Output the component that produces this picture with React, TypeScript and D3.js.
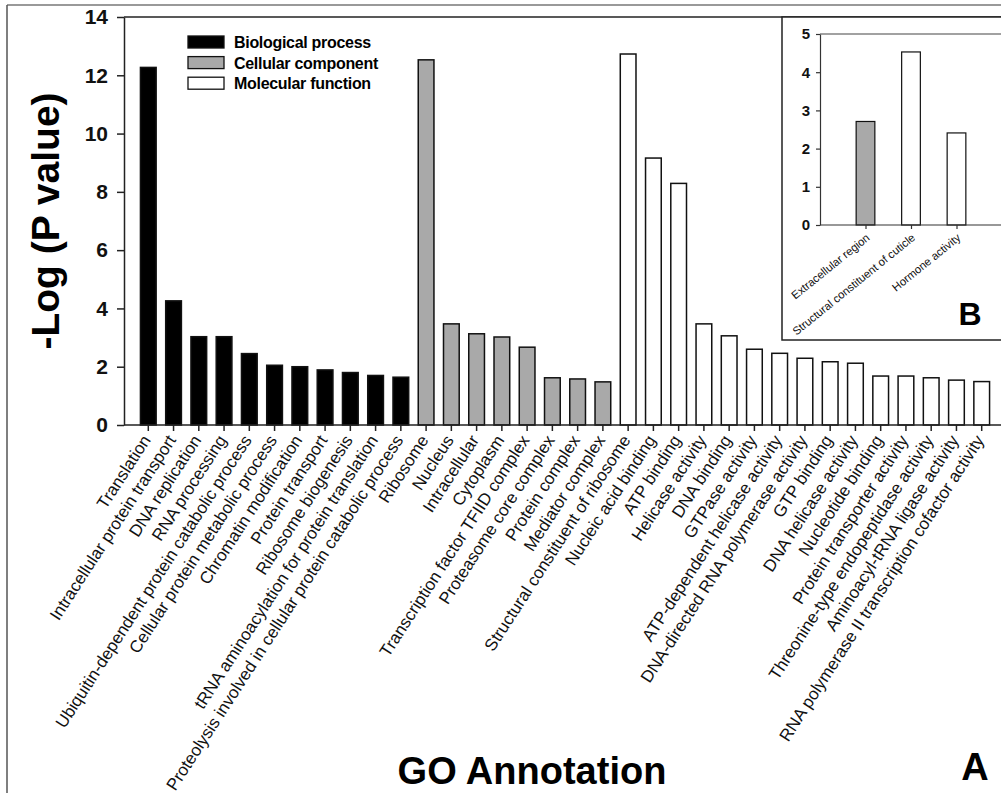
import { useRef, useEffect } from 'react';
import * as d3 from 'd3';

// main panel (A)
const bpLabels = [
  'Translation',
  'Intracellular protein transport',
  'DNA replication',
  'RNA processing',
  'Ubiquitin-dependent protein catabolic process',
  'Cellular protein metabolic process',
  'Chromatin modification',
  'Protein transport',
  'Ribosome biogenesis',
  'tRNA aminoacylation for protein translation',
  'Proteolysis involved in cellular protein catabolic process',
];
const bpValues = [12.27, 4.26, 3.03, 3.03, 2.45, 2.05, 2.0, 1.89, 1.8, 1.7, 1.64];

const ccLabels = [
  'Ribosome',
  'Nucleus',
  'Intracellular',
  'Cytoplasm',
  'Transcription factor TFIID complex',
  'Proteasome core complex',
  'Protein complex',
  'Mediator complex',
];
const ccValues = [12.53, 3.47, 3.13, 3.02, 2.67, 1.62, 1.58, 1.48];

const mfLabels = [
  'Structural constituent of ribosome',
  'Nucleic acid binding',
  'ATP binding',
  'Helicase activity',
  'DNA binding',
  'GTPase activity',
  'ATP-dependent helicase activity',
  'DNA-directed RNA polymerase activity',
  'GTP binding',
  'DNA helicase activity',
  'Nucleotide binding',
  'Protein transporter activity',
  'Threonine-type endopeptidase activity',
  'Aminoacyl-tRNA ligase activity',
  'RNA polymerase II transcription cofactor activity',
];
const mfValues = [12.73, 9.16, 8.29, 3.47, 3.06, 2.6, 2.46, 2.29, 2.17, 2.12, 1.68, 1.68, 1.62, 1.54, 1.49];

const mainTicks = [0, 2, 4, 6, 8, 10, 12, 14];

// inset panel (B)
const insetLabels = ['Extracellular region', 'Structural constituent of cuticle', 'Hormone activity'];
const insetValues = [2.71, 4.53, 2.41];
const insetGroups = ['cc', 'mf', 'mf'];
const insetTicks = [0, 1, 2, 3, 4, 5];

const legendItems = [
  { key: 'bp', label: 'Biological process' },
  { key: 'cc', label: 'Cellular component' },
  { key: 'mf', label: 'Molecular function' },
];

const fills: Record<string, string> = { bp: '#000000', cc: '#a9a9a9', mf: '#ffffff' };
const font = '"Liberation Sans", Arial, sans-serif';

interface Bar {
  label: string;
  value: number;
  group: string;
}

const bars: Bar[] = [
  ...bpLabels.map((label, i) => ({ label, value: bpValues[i], group: 'bp' })),
  ...ccLabels.map((label, i) => ({ label, value: ccValues[i], group: 'cc' })),
  ...mfLabels.map((label, i) => ({ label, value: mfValues[i], group: 'mf' })),
];

const W = 1001;
const H = 793;

function App() {
  const svgRef = useRef<SVGSVGElement>(null);

  useEffect(() => {
    const svg = d3.select(svgRef.current);
    svg.selectAll('*').remove();

    // outer figure frame (top + left only visible)
    svg.append('line').attr('x1', 7).attr('x2', W).attr('y1', 5).attr('y2', 5)
      .attr('stroke', '#777').attr('stroke-width', 1.5);
    svg.append('line').attr('x1', 7).attr('x2', 7).attr('y1', 5).attr('y2', H)
      .attr('stroke', '#555').attr('stroke-width', 1.5);

    // ---- main chart
    const x = d3.scaleBand<string>()
      .domain(bars.map((d) => d.label))
      .range([124, 1006])
      .paddingInner(0.378)
      .paddingOuter(0.651);
    const y = d3.scaleLinear().domain([0, 14]).range([425, 17]);

    const g = svg.append('g');

    g.append('line').attr('x1', 124).attr('x2', W).attr('y1', y(14)).attr('y2', y(14))
      .attr('stroke', '#222').attr('stroke-width', 1.5);

    g.append('g')
      .selectAll('rect')
      .data(bars)
      .enter()
      .append('rect')
      .attr('x', (d) => x(d.label)!)
      .attr('y', (d) => y(d.value))
      .attr('width', x.bandwidth())
      .attr('height', (d) => y(0) - y(d.value))
      .attr('fill', (d) => fills[d.group])
      .attr('stroke', '#111')
      .attr('stroke-width', 1.5);

    const yAxis = g.append('g')
      .attr('transform', 'translate(124,0)')
      .call(d3.axisLeft(y).tickValues(mainTicks).tickSize(7).tickPadding(9).tickSizeOuter(0));
    yAxis.selectAll('text')
      .attr('fill', '#111')
      .style('font-family', font)
      .style('font-size', '21px')
      .style('font-weight', 'bold');

    const xAxis = g.append('g')
      .attr('transform', `translate(0,${y(0)})`)
      .call(d3.axisBottom(x).tickSize(6).tickFormat(() => '').tickSizeOuter(0));
    xAxis.select('.domain').attr('d', `M124,0H${W}`);

    g.selectAll('.domain, .tick line').attr('stroke', '#222').attr('stroke-width', 1.5);

    g.append('g')
      .selectAll('text')
      .data(bars)
      .enter()
      .append('text')
      .attr('transform', (d) => `translate(${x(d.label)! + x.bandwidth() / 2 + 3},440) rotate(-57)`)
      .attr('text-anchor', 'end')
      .style('font-family', font)
      .style('font-size', '17px')
      .attr('fill', '#111')
      .text((d) => d.label);

    g.append('text')
      .attr('transform', 'translate(59,221) rotate(-90)')
      .attr('text-anchor', 'middle')
      .style('font-family', font)
      .style('font-size', '39px')
      .style('font-weight', 'bold')
      .text('-Log (P value)');

    g.append('text')
      .attr('x', 532)
      .attr('y', 784)
      .attr('text-anchor', 'middle')
      .style('font-family', font)
      .style('font-size', '38px')
      .style('font-weight', 'bold')
      .text('GO Annotation');

    g.append('text')
      .attr('x', 975)
      .attr('y', 780)
      .attr('text-anchor', 'middle')
      .style('font-family', font)
      .style('font-size', '38px')
      .style('font-weight', 'bold')
      .text('A');

    // legend
    const legend = g.append('g').attr('transform', 'translate(188,36)');
    const li = legend.selectAll('g').data(legendItems).enter().append('g')
      .attr('transform', (_, i) => `translate(0,${i * 20.6})`);
    li.append('rect').attr('width', 36).attr('height', 12)
      .attr('fill', (d) => fills[d.key]).attr('stroke', '#111').attr('stroke-width', 1.3);
    li.append('text').attr('x', 46).attr('y', 12)
      .style('font-family', font).style('font-size', '16px').style('font-weight', 'bold')
      .style('letter-spacing', '-0.3px')
      .text((d) => d.label);

    // ---- inset (B)
    const inset = svg.append('g');
    inset.append('rect').attr('x', 782).attr('y', 17).attr('width', 240).attr('height', 323)
      .attr('fill', '#fff').attr('stroke', '#222').attr('stroke-width', 1.5);

    const ix = d3.scalePoint<string>().domain(insetLabels).range([820, 1002]).padding(1);
    const iy = d3.scaleLinear().domain([0, 5]).range([225, 34]);
    const bw = 18.7;

    inset.append('line').attr('x1', 820).attr('x2', W).attr('y1', iy(5)).attr('y2', iy(5))
      .attr('stroke', '#444').attr('stroke-width', 1.2);

    inset.append('g')
      .selectAll('rect')
      .data(insetLabels)
      .enter()
      .append('rect')
      .attr('x', (d) => ix(d)! - bw / 2)
      .attr('y', (_, i) => iy(insetValues[i]))
      .attr('width', bw)
      .attr('height', (_, i) => iy(0) - iy(insetValues[i]))
      .attr('fill', (_, i) => fills[insetGroups[i]])
      .attr('stroke', '#111')
      .attr('stroke-width', 1.2);

    const iyAxis = inset.append('g')
      .attr('transform', 'translate(820,0)')
      .call(d3.axisLeft(iy).tickValues(insetTicks).tickFormat(d3.format('d')).tickSize(4).tickPadding(6).tickSizeOuter(0));
    iyAxis.selectAll('text')
      .attr('fill', '#111')
      .style('font-family', font)
      .style('font-size', '15px')
      .style('font-weight', 'bold');

    const ixAxis = inset.append('g')
      .attr('transform', `translate(0,${iy(0)})`)
      .call(d3.axisBottom(ix).tickSize(4).tickFormat(() => '').tickSizeOuter(0));
    ixAxis.select('.domain').attr('d', `M820,0H${W}`);
    inset.selectAll('.domain, .tick line').attr('stroke', '#333').attr('stroke-width', 1.2);

    inset.append('g')
      .selectAll('text')
      .data(insetLabels)
      .enter()
      .append('text')
      .attr('transform', (d) => `translate(${ix(d)! + 5},239) rotate(-39)`)
      .attr('text-anchor', 'end')
      .style('font-family', font)
      .style('font-size', '11.3px')
      .attr('fill', '#111')
      .text((d) => d);

    inset.append('text')
      .attr('x', 970)
      .attr('y', 325)
      .attr('text-anchor', 'middle')
      .style('font-family', font)
      .style('font-size', '32px')
      .style('font-weight', 'bold')
      .text('B');
  }, []);

  return (
    <div style={{ position: 'absolute', left: 0, top: 0, width: W, height: H, background: '#fff', overflow: 'hidden' }}>
      <svg ref={svgRef} width={W} height={H} style={{ display: 'block' }} />
    </div>
  );
}

export default App;
